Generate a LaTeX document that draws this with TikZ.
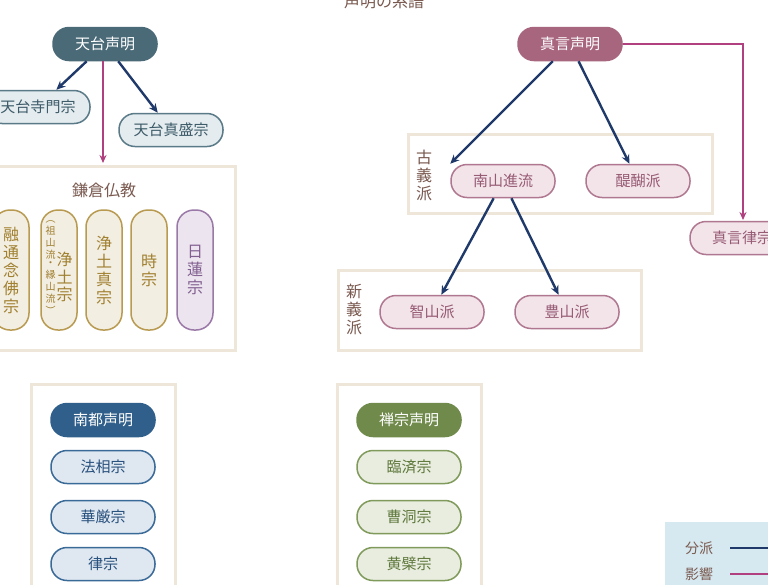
\documentclass[tikz,border=0pt]{standalone}
\usepackage{fontspec}
\setmainfont{Noto Sans CJK JP}
\usetikzlibrary{arrows.meta}
\definecolor{navy}{HTML}{1F3A6A}
\definecolor{mag}{HTML}{B0407F}
\definecolor{brn}{HTML}{7A5A50}
\definecolor{boxb}{HTML}{EFE6DA}
\definecolor{tealF}{RGB}{74,106,120}
\definecolor{tlF}{RGB}{228,236,239}\definecolor{tlD}{RGB}{90,122,136}\definecolor{tlT}{RGB}{60,90,104}
\definecolor{mvF}{RGB}{168,101,126}
\definecolor{mlF}{RGB}{243,228,234}\definecolor{mlD}{RGB}{176,120,144}\definecolor{mlT}{RGB}{150,90,115}
\definecolor{blF}{RGB}{47,95,138}
\definecolor{bllF}{RGB}{223,231,240}\definecolor{bllD}{RGB}{58,106,152}\definecolor{bllT}{RGB}{40,80,125}
\definecolor{grF}{RGB}{111,138,74}
\definecolor{grlF}{RGB}{232,237,223}\definecolor{grlD}{RGB}{127,154,90}\definecolor{grlT}{RGB}{95,120,60}
\definecolor{gdF}{RGB}{243,238,226}\definecolor{gdD}{RGB}{184,154,80}\definecolor{gdT}{RGB}{160,128,48}
\definecolor{puF}{RGB}{236,228,238}\definecolor{puD}{RGB}{154,120,168}\definecolor{puT}{RGB}{130,95,145}
\definecolor{legF}{RGB}{214,232,240}
\begin{document}
\begin{tikzpicture}[x=1pt,y=-1pt,
  pill/.style={rounded corners=16pt,minimum width=104pt,minimum height=33pt,draw,line width=1.5pt,font=\fontsize{15}{17}\selectfont},
  vp/.style={rounded corners=17pt,minimum width=36pt,minimum height=120pt,draw,line width=1.5pt,align=center,font=\fontsize{16}{18}\selectfont,inner sep=1pt},
  grp/.style={draw=boxb,line width=3pt,fill=white},
  br/.style={-{Stealth[length=9pt,width=8pt]},navy,line width=2.4pt},
  inf/.style={-{Stealth[length=8pt,width=7pt]},mag,line width=2pt},
  gl/.style={font=\fontsize{16}{18}\selectfont,text=brn,align=center},
  teal/.style={pill,fill=tealF,draw=tealF,text=white},
  tl/.style={pill,fill=tlF,draw=tlD,text=tlT},
  mv/.style={pill,fill=mvF,draw=mvF,text=white},
  ml/.style={pill,fill=mlF,draw=mlD,text=mlT},
  bl/.style={pill,fill=blF,draw=blF,text=white},
  bll/.style={pill,fill=bllF,draw=bllD,text=bllT},
  gr/.style={pill,fill=grF,draw=grF,text=white},
  grl/.style={pill,fill=grlF,draw=grlD,text=grlT},
  gd/.style={vp,fill=gdF,draw=gdD,text=gdT},
  pu/.style={vp,fill=puF,draw=puD,text=puT}]
\useasboundingbox (0,0) rectangle (768,584);
\clip (0,0) rectangle (768,584);
\fill[white] (0,0) rectangle (768,584);
\node[gl] (title) at (384,1) {声明の系譜};
% groups
\draw[grp] (-5,166) rectangle (235,350);
\draw[grp] (408,134) rectangle (712,213);
\draw[grp] (338,270) rectangle (641,350);
\draw[grp] (31,384) rectangle (175,600);
\draw[grp] (337,384) rectangle (481,600);
\fill[legF] (665,522) rectangle (780,600);
% tendai
\node[teal] (td) at (105,44) {天台声明};
\node[tl] (tj) at (38,107) {天台寺門宗};
\node[tl] (ts) at (171,130) {天台真盛宗};
\node[gl] (kam) at (104,190) {鎌倉仏教};
\node[gd] (yu) at (11,270) {融\\通\\念\\佛\\宗};
\node[gd] (jo) at (59,270) {\begin{tabular}{@{}c@{\hspace{1pt}}c@{}}\fontsize{10}{11}\selectfont\shortstack{︵\\祖\\山\\流\\・\\縁\\山\\流\\︶} & \raisebox{14pt}{\shortstack{浄\\土\\宗}}\end{tabular}};
\node[gd] (js) at (104,270) {浄\\土\\真\\宗};
\node[gd] (ji) at (149,270) {時\\宗};
\node[pu] (ni) at (195,270) {日\\蓮\\宗};
\draw[br] (td) -- (tj);
\draw[br] (td) -- (ts);
\coordinate (kt) at (103,163);
\draw[inf] (td.south -| kt) -- (kt);
% shingon
\node[mv] (sg) at (570,44) {真言声明};
\node[ml] (sr) at (742,238) {真言律宗};
\node[gl] (ko) at (424,175) {古\\義\\派};
\node[ml] (nz) at (503,181) {南山進流};
\node[ml] (dg) at (638,181) {醍醐派};
\node[gl] (sn) at (354,310) {新\\義\\派};
\node[ml] (cz) at (432,312) {智山派};
\node[ml] (bz) at (567,312) {豊山派};
\draw[br] (sg) -- (nz.north west);
\draw[br] (sg) -- (dg);
\draw[br] (nz) -- (cz);
\draw[br] (nz) -- (bz);
\coordinate (sgt) at (743,220);
\draw[inf] (sg.east) -| (sgt);
% nanto
\node[bl] (nt) at (103,420) {南都声明};
\node[bll] (hs) at (103,467) {法相宗};
\node[bll] (kg) at (103,517) {華厳宗};
\node[bll] (rs) at (103,564) {律宗};
% zen
\node[gr] (zn) at (409,420) {禅宗声明};
\node[grl] (rz) at (409,467) {臨済宗};
\node[grl] (sd) at (409,517) {曹洞宗};
\node[grl] (ob) at (409,564) {黄檗宗};
% legend
\node[font=\fontsize{14}{16}\selectfont,text=brn] (l1) at (699,548) {分派};
\node[font=\fontsize{14}{16}\selectfont,text=brn] (l2) at (699,574) {影響};
\coordinate (e1) at (780,548);
\coordinate (e2) at (780,574);
\draw[navy,line width=2.4pt] (730,548) -- (e1);
\draw[mag,line width=2.4pt] (730,574) -- (e2);
\end{tikzpicture}
\end{document}
